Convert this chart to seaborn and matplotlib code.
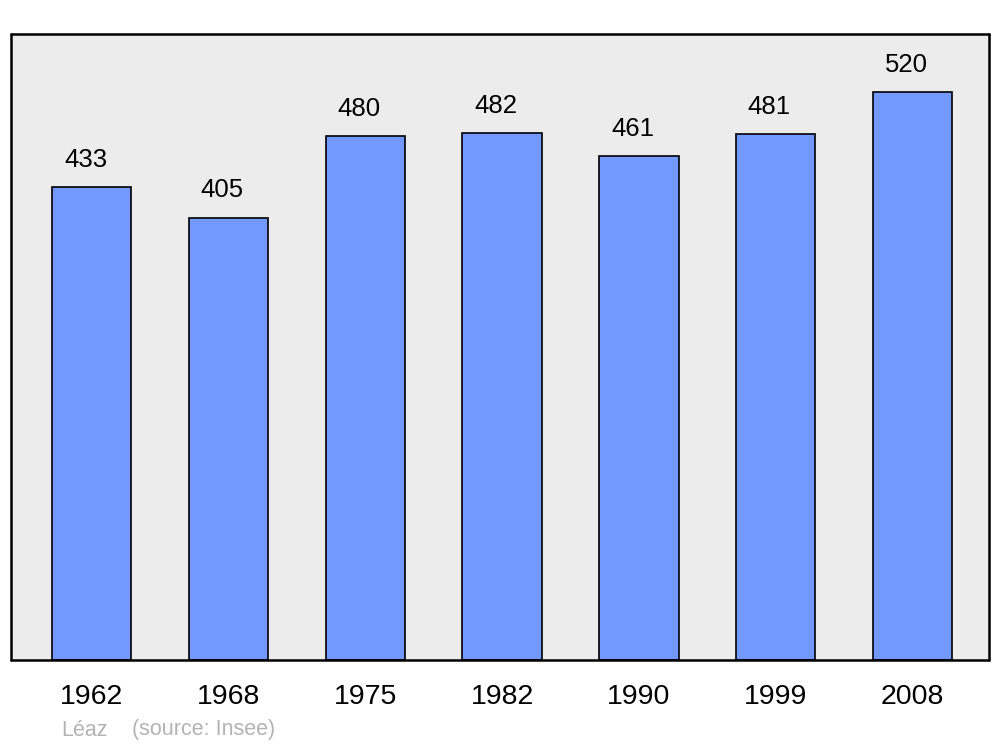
import matplotlib
matplotlib.use("Agg")
import matplotlib.pyplot as plt
import seaborn as sns
import pandas as pd

years = ["1962", "1968", "1975", "1982", "1990", "1999", "2008"]
population = [433, 405, 480, 482, 461, 481, 520]

df = pd.DataFrame({"year": years, "pop": population})

sns.set_style("white")
plt.rcParams["font.family"] = ["Liberation Sans", "DejaVu Sans"]

fig = plt.figure(figsize=(10, 7.47), dpi=100)
ax = fig.add_axes([0.011, 0.1165, 0.978, 0.838])
ax.set_facecolor("#ececec")

sns.barplot(data=df, x="year", y="pop", color="#7399ff", saturation=1,
            edgecolor="black", linewidth=1.2, width=0.58, ax=ax)

for i, v in enumerate(population):
    ax.annotate(str(v), (i, v), xytext=(-4.5, 19.5), textcoords="offset points",
                ha="center", va="center", fontsize=18.5, color="black")

ax.set_xlim(-0.59, 6.56)
ax.set_ylim(0, 573)
ax.set_xlabel("")
ax.set_ylabel("")
ax.set_yticks([])
ax.tick_params(axis="x", length=0, pad=17, labelsize=20.5, labelcolor="black")
for s in ax.spines.values():
    s.set_visible(True)
    s.set_linewidth(1.8)
    s.set_color("black")
    s.set_capstyle("round")

fig.text(0.061, 1 - 730 / 747, "Léaz", color="#b3b3b3", fontsize=15.5, va="center")
fig.text(0.132, 1 - 730 / 747, "(source: Insee)", color="#b3b3b3", fontsize=15.5, va="center")

fig.savefig("out.png", dpi=100, facecolor="white")
